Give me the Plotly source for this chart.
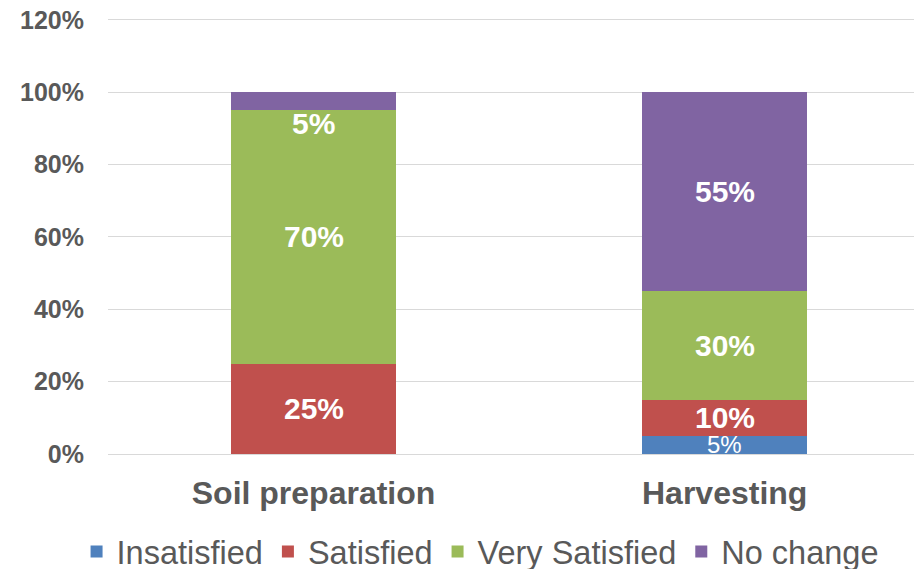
import plotly.graph_objects as go

categories = ["Soil preparation", "Harvesting"]
series_names = ["Insatisfied", "Satisfied", "Very Satisfied", "No change"]
insatisfied = [0, 5]
satisfied = [25, 10]
very_satisfied = [70, 30]
no_change = [5, 55]
colors = ["#4F81BD", "#C0504D", "#9BBB59", "#8064A2"]
y_ticks = [0, 20, 40, 60, 80, 100, 120]

FONT = "Arial, Liberation Sans, sans-serif"
GRAY = "#595959"

fig = go.Figure()
all_vals = [insatisfied, satisfied, very_satisfied, no_change]
for name, vals, col in zip(series_names, all_vals, colors):
    fig.add_trace(go.Bar(
        name=name, x=categories, y=vals, width=0.4,
        marker=dict(color=col, line=dict(width=0)),
        hoverinfo="skip",
    ))

# data labels
for ci, cat in enumerate(categories):
    cum = 0
    for si, vals in enumerate(all_vals):
        v = vals[ci]
        if v > 0:
            small_top = (si == 3 and v < 8)
            if si == 0:
                txt = f"{v}%"
                fnt = dict(family=FONT, size=24, color="white")
            else:
                txt = f"<b>{v}%</b>"
                fnt = dict(family=FONT, size=30, color="white")
            if small_top:
                fig.add_annotation(x=cat, y=cum, yanchor="top", yshift=5, text=txt,
                                   showarrow=False, font=fnt)
            else:
                fig.add_annotation(x=cat, y=cum + v / 2, yanchor="middle", text=txt,
                                   showarrow=False, font=fnt)
        cum += v

fig.update_layout(
    barmode="stack",
    width=922, height=569,
    margin=dict(l=100, r=8, t=10, b=123, autoexpand=False),
    paper_bgcolor="white", plot_bgcolor="white",
    font=dict(family=FONT, color=GRAY),
    showlegend=True,
    legend=dict(orientation="h", x=0.512, xanchor="center", xref="container",
                y=0.044, yanchor="middle", yref="container",
                font=dict(family=FONT, size=32.5, color=GRAY), itemwidth=30,
                traceorder="normal"),
    xaxis=dict(range=[-0.5, 1.48], showgrid=False, showline=True, linecolor="#D9D9D9",
               linewidth=1, automargin=False,
               tickfont=dict(family=FONT, size=32, color=GRAY), ticks="",
               ticklabelstandoff=11,
               tickvals=categories, ticktext=[f"<b>{c}</b>" for c in categories]),
    yaxis=dict(range=[0, 120.5], tickvals=y_ticks, ticktext=[f"<b>{t}%</b>" for t in y_ticks],
               showgrid=True, gridcolor="#D9D9D9", gridwidth=1, zeroline=False,
               automargin=False, ticklabeloverflow="allow",
               tickfont=dict(family=FONT, size=25, color=GRAY), ticklabelstandoff=23),
)

fig.write_html("out.html")
